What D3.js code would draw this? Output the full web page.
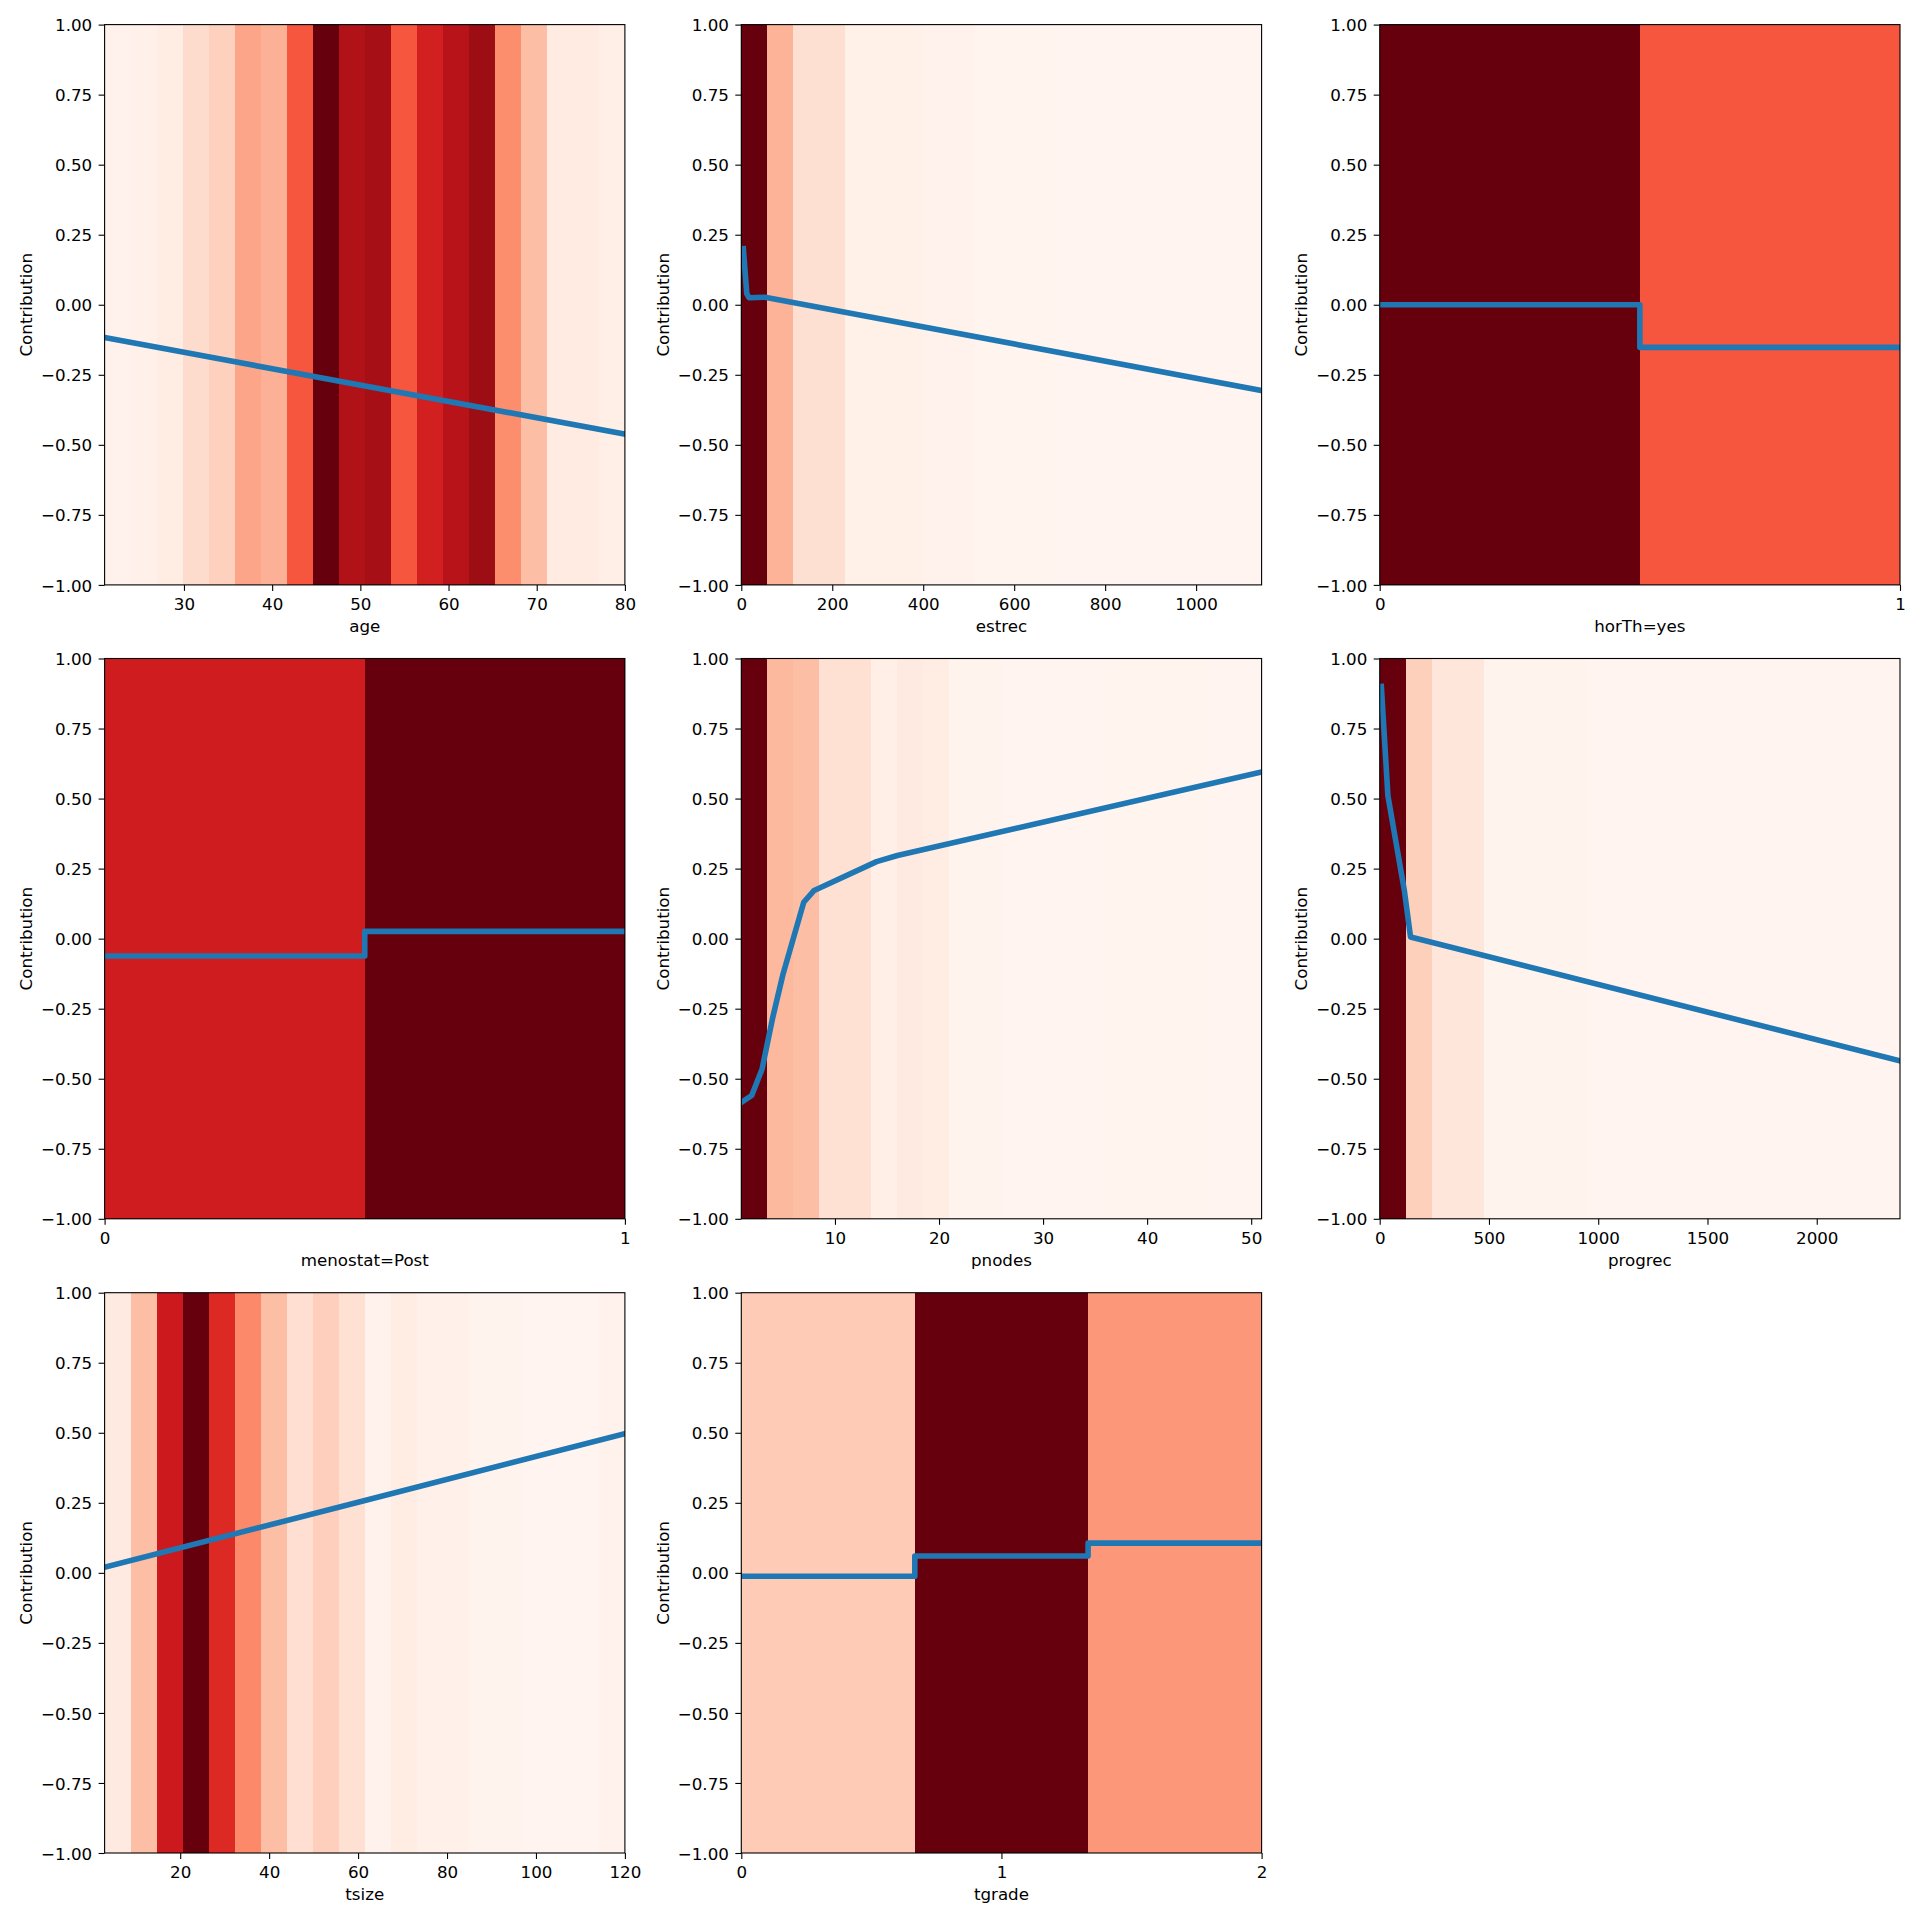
<!DOCTYPE html>
<html lang="en">
  <head>
    <meta charset="UTF-8" />
    <title>Feature contributions</title>
    <script src="https://d3js.org/d3.v7.min.js"></script>
    <style>
      body {
        margin: 0;
        background: #fff;
      }
      #chart svg {
        display: block;
      }
      #chart text {
        font-family: "DejaVu Sans", sans-serif;
        font-size: 16.7px;
        fill: #000;
      }
    </style>
  </head>
  <body>
    <div id="chart"></div>

    <script>
      // ---- data ----
      const featureNames = [
        "age", "estrec", "horTh=yes", "menostat=Post",
        "pnodes", "progrec", "tsize", "tgrade",
      ];
      const yTicks = [-1, -0.75, -0.5, -0.25, 0, 0.25, 0.5, 0.75, 1];

      // age
      const ageRange = [21, 80];
      const ageDensity = [0.018, 0.03, 0.054, 0.139, 0.176, 0.317, 0.28, 0.553, 1.0, 0.839,
                          0.875, 0.553, 0.726, 0.816, 0.891, 0.388, 0.24, 0.06, 0.06, 0.036];
      const ageLineX = [21, 80];
      const ageLineY = [-0.117, -0.462];
      const ageTicks = [30, 40, 50, 60, 70, 80];

      // estrec
      const estrecRange = [0, 1144];
      const estrecDensity = [1.0, 0.274, 0.125, 0.125, 0.032, 0.032, 0.032, 0.018, 0.018, 0.008,
                             0.008, 0.008, 0.006, 0.006, 0.006, 0.006, 0.006, 0.006, 0.006, 0.006];
      const estrecLineX = [4.5, 12, 17, 52, 1144];
      const estrecLineY = [0.2, 0.04, 0.025, 0.027, -0.306];
      const estrecTicks = [0, 200, 400, 600, 800, 1000];

      // horTh=yes
      const horThEdges = [0, 0.5, 1];
      const horThDensity = [1.0, 0.553];
      const horThLineX = [0, 0.5, 1];
      const horThLineY = [0, -0.152, -0.152];
      const horThTicks = [0, 1];

      // menostat=Post
      const menostatEdges = [0, 0.5, 1];
      const menostatDensity = [0.736, 1.0];
      const menostatLineX = [0, 0.5, 1];
      const menostatLineY = [-0.062, 0.026, 0.026];
      const menostatTicks = [0, 1];

      // pnodes
      const pnodesRange = [1, 51];
      const pnodesDensity = [1.0, 0.257, 0.24, 0.119, 0.119, 0.036, 0.065, 0.048, 0.012, 0.012,
                             0.006, 0.006, 0.006, 0.004, 0.008, 0.008, 0.008, 0.008, 0.006, 0.004];
      const pnodesLineX = [1, 2, 3, 4, 5, 7, 8, 14, 16, 51];
      const pnodesLineY = [-0.585, -0.56, -0.465, -0.285, -0.128, 0.13, 0.172, 0.275, 0.297, 0.595];
      const pnodesTicks = [10, 20, 30, 40, 50];

      // progrec
      const progrecRange = [0, 2381];
      const progrecDensity = [1.0, 0.18, 0.089, 0.089, 0.012, 0.012, 0.012, 0.012, 0.006, 0.006,
                              0.006, 0.006, 0.006, 0.006, 0.006, 0.006, 0.006, 0.006, 0.006, 0.006];
      const progrecLineX = [7.5, 37.6, 113, 141, 2381];
      const progrecLineY = [0.9, 0.51, 0.171, 0.006, -0.436];
      const progrecTicks = [0, 500, 1000, 1500, 2000];

      // tsize
      const tsizeRange = [3, 120];
      const tsizeDensity = [0.065, 0.237, 0.748, 1.0, 0.688, 0.403, 0.237, 0.128, 0.182, 0.119,
                            0.018, 0.048, 0.03, 0.03, 0.012, 0.012, 0.006, 0.006, 0.006, 0.018];
      const tsizeLineX = [3, 60, 120];
      const tsizeLineY = [0.02, 0.252, 0.497];
      const tsizeTicks = [20, 40, 60, 80, 100, 120];

      // tgrade
      const tgradeEdges = [0, 0.667, 1.333, 2];
      const tgradeDensity = [0.197, 1.0, 0.357];
      const tgradeLineX = [0, 0.667, 1.333, 2];
      const tgradeLineY = [-0.012, 0.06, 0.106, 0.106];
      const tgradeTicks = [0, 1, 2];

      // ---- layout ----
      const width = 1920;
      const height = 1920;
      const colLeft = [104.6, 741.3, 1379.7];
      const rowTop = [24.6, 658.5, 1292.7];
      const panelW = 520.3;
      const panelH = 560.3;
      const tickLen = 6;

      // matplotlib "Reds" (linear between the 9 brewer stops)
      const redsStops = ["#fff5f0", "#fee0d2", "#fcbba1", "#fc9272", "#fb6a4a",
                         "#ef3b2c", "#cb181d", "#a50f15", "#67000d"];
      const reds = d3.scaleLinear()
        .domain(d3.range(9).map((i) => i / 8))
        .range(redsStops)
        .interpolate(d3.interpolateRgb)
        .clamp(true);

      // equal width histogram edges
      function equalEdges(range, n) {
        const step = (range[1] - range[0]) / n;
        return d3.range(n + 1).map((i) => range[0] + i * step);
      }

      const panels = [
        { edges: equalEdges(ageRange, ageDensity.length), density: ageDensity,
          lx: ageLineX, ly: ageLineY, ticks: ageTicks, step: false },
        { edges: equalEdges(estrecRange, estrecDensity.length), density: estrecDensity,
          lx: estrecLineX, ly: estrecLineY, ticks: estrecTicks, step: false },
        { edges: horThEdges, density: horThDensity,
          lx: horThLineX, ly: horThLineY, ticks: horThTicks, step: true },
        { edges: menostatEdges, density: menostatDensity,
          lx: menostatLineX, ly: menostatLineY, ticks: menostatTicks, step: true },
        { edges: equalEdges(pnodesRange, pnodesDensity.length), density: pnodesDensity,
          lx: pnodesLineX, ly: pnodesLineY, ticks: pnodesTicks, step: false },
        { edges: equalEdges(progrecRange, progrecDensity.length), density: progrecDensity,
          lx: progrecLineX, ly: progrecLineY, ticks: progrecTicks, step: false },
        { edges: equalEdges(tsizeRange, tsizeDensity.length), density: tsizeDensity,
          lx: tsizeLineX, ly: tsizeLineY, ticks: tsizeTicks, step: false },
        { edges: tgradeEdges, density: tgradeDensity,
          lx: tgradeLineX, ly: tgradeLineY, ticks: tgradeTicks, step: true },
      ];

      const svg = d3.select("#chart")
        .append("svg")
        .attr("width", width)
        .attr("height", height)
        .attr("viewBox", [0, 0, width, height]);

      svg.append("rect")
        .attr("width", width)
        .attr("height", height)
        .attr("fill", "#fff");

      panels.forEach((p, i) => {
        const left = colLeft[i % 3];
        const top = rowTop[Math.floor(i / 3)];
        const edges = p.edges;

        const x = d3.scaleLinear()
          .domain([edges[0], edges[edges.length - 1]])
          .range([0, panelW]);
        const y = d3.scaleLinear().domain([-1, 1]).range([panelH, 0]);

        const g = svg.append("g").attr("transform", `translate(${left},${top})`);

        const clipId = "clip" + i;
        g.append("clipPath")
          .attr("id", clipId)
          .append("rect")
          .attr("width", panelW)
          .attr("height", panelH);

        // density bands
        g.append("g")
          .selectAll("rect")
          .data(p.density)
          .join("rect")
          .attr("x", (d, j) => x(edges[j]))
          .attr("width", (d, j) => x(edges[j + 1]) - x(edges[j]) + 0.5)
          .attr("y", y(1))
          .attr("height", y(-1) - y(1))
          .attr("fill", (d) => reds(d))
          .attr("shape-rendering", "crispEdges");

        // contribution curve
        const pts = p.lx.map((v, j) => [v, p.ly[j]]);
        const line = d3.line()
          .x((d) => x(d[0]))
          .y((d) => y(d[1]))
          .curve(p.step ? d3.curveStepAfter : d3.curveLinear);

        g.append("path")
          .datum(pts)
          .attr("clip-path", `url(#${clipId})`)
          .attr("d", line)
          .attr("fill", "none")
          .attr("stroke", "#1f77b4")
          .attr("stroke-width", 5.6)
          .attr("stroke-linejoin", "round")
          .attr("stroke-linecap", "square");

        // axes
        const xAxis = g.append("g")
          .attr("transform", `translate(0,${panelH})`)
          .call(
            d3.axisBottom(x)
              .tickValues(p.ticks)
              .tickFormat(d3.format("d"))
              .tickSize(tickLen)
              .tickSizeOuter(0)
              .tickPadding(7.4)
          );
        xAxis.select(".domain").remove();

        const yAxis = g.append("g").call(
          d3.axisLeft(y)
            .tickValues(yTicks)
            .tickFormat(d3.format(".2f"))
            .tickSize(tickLen)
            .tickSizeOuter(0)
            .tickPadding(6.4)
        );
        yAxis.select(".domain").remove();
        yAxis.selectAll("text").attr("dy", "0.365em");

        g.selectAll(".tick line").attr("stroke", "#000").attr("stroke-width", 1.1);
        g.selectAll(".tick text").attr("font-family", null).attr("font-size", null);

        // frame
        g.append("rect")
          .attr("width", panelW)
          .attr("height", panelH)
          .attr("fill", "none")
          .attr("stroke", "#000")
          .attr("stroke-width", 1.1);

        // labels
        g.append("text")
          .attr("x", panelW / 2)
          .attr("y", panelH + 47)
          .attr("text-anchor", "middle")
          .text(featureNames[i]);

        g.append("text")
          .attr("transform", `translate(-72.6,${panelH / 2}) rotate(-90)`)
          .attr("text-anchor", "middle")
          .text("Contribution");
      });
    </script>
  </body>
</html>
